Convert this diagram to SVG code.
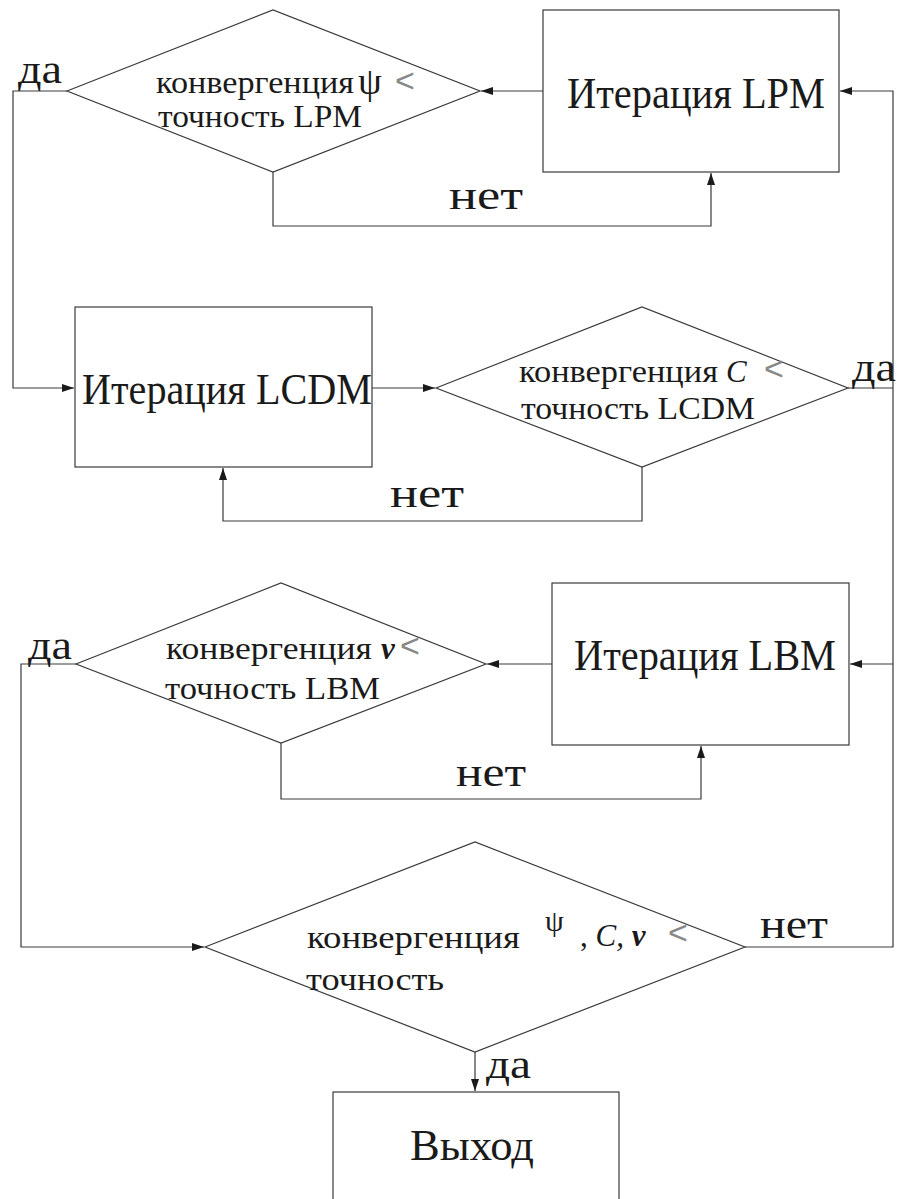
<svg xmlns="http://www.w3.org/2000/svg" width="898" height="1199" viewBox="0 0 898 1199">
<style>
.shape{fill:none;stroke:#3a3a3a;stroke-width:1.2}
.line{fill:none;stroke:#3a3a3a;stroke-width:1.2}
.t{font-family:'Liberation Serif','DejaVu Serif',serif;fill:#1a1a1a}
.big{font-size:44px}
.dt{font-size:31px}
.lbl{font-size:40px}
.lt{fill:#888;font-family:'Liberation Sans',sans-serif;font-size:34px}
</style>
<defs>
<marker id="arr" markerUnits="userSpaceOnUse" markerWidth="13" markerHeight="8" refX="12" refY="4" orient="auto">
<path d="M0,0 L12,4 L0,8 z" fill="#1a1a1a"/>
</marker>
</defs>
<rect width="898" height="1199" fill="#fff"/>
<g id="connectors">
<path class="line" d="M543,91 H481" marker-end="url(#arr)"/>
<path class="line" d="M273,172 V226 H711 V173" marker-end="url(#arr)"/>
<path class="line" d="M67,91 H13 V388 H74" marker-end="url(#arr)"/>
<path class="line" d="M372,388 H435" marker-end="url(#arr)"/>
<path class="line" d="M642,467 V521 H223 V468" marker-end="url(#arr)"/>
<path class="line" d="M848,388 H893"/>
<path class="line" d="M745,947 H893 V91 H840" marker-end="url(#arr)"/>
<path class="line" d="M893,664 H850" marker-end="url(#arr)"/>
<path class="line" d="M552,664 H487" marker-end="url(#arr)"/>
<path class="line" d="M281,743 V799 H701 V746" marker-end="url(#arr)"/>
<path class="line" d="M76,664 H21 V947 H204" marker-end="url(#arr)"/>
<path class="line" d="M475,1052 V1091" marker-end="url(#arr)"/>
</g>
<g id="labels">
<text class="t lbl" x="18" y="83" textLength="44" lengthAdjust="spacingAndGlyphs">да</text>
<text class="t lbl" x="449" y="209" textLength="74" lengthAdjust="spacingAndGlyphs">нет</text>
<text class="t lbl" x="852" y="381" textLength="44" lengthAdjust="spacingAndGlyphs">да</text>
<text class="t lbl" x="390" y="507" textLength="74" lengthAdjust="spacingAndGlyphs">нет</text>
<text class="t lbl" x="28" y="659" textLength="44" lengthAdjust="spacingAndGlyphs">да</text>
<text class="t lbl" x="456" y="786" textLength="70" lengthAdjust="spacingAndGlyphs">нет</text>
<text class="t lbl" x="760" y="938" textLength="68" lengthAdjust="spacingAndGlyphs">нет</text>
<text class="t lbl" x="486" y="1078" textLength="45" lengthAdjust="spacingAndGlyphs">да</text>
</g>
<g id="lpm-check">
<polygon class="shape" points="67,91 273,10 480,91 273,172"/>
<text class="t dt" x="156" y="93" textLength="198" lengthAdjust="spacingAndGlyphs">конвергенция</text>
<text class="t" x="358" y="94" font-size="38">ψ</text>
<text class="lt" x="395" y="92">&lt;</text>
<text class="t dt" x="158" y="127" textLength="204" lengthAdjust="spacingAndGlyphs">точность LPM</text>
</g>
<g id="lpm-iter">
<rect class="shape" x="543" y="10" width="296" height="162"/>
<text class="t big" x="567" y="108" textLength="258" lengthAdjust="spacingAndGlyphs">Итерация LPM</text>
</g>
<g id="lcdm-iter">
<rect class="shape" x="75" y="307" width="297" height="160"/>
<text class="t big" x="82" y="404" textLength="290" lengthAdjust="spacingAndGlyphs">Итерация LCDM</text>
</g>
<g id="lcdm-check">
<polygon class="shape" points="436,388 642,307 848,388 642,467"/>
<text class="t dt" x="519" y="382" textLength="199" lengthAdjust="spacingAndGlyphs">конвергенция</text>
<text class="t dt" x="726" y="382" font-style="italic" fill="#555">C</text>
<text class="lt" x="764" y="380">&lt;</text>
<text class="t dt" x="521" y="419" textLength="234" lengthAdjust="spacingAndGlyphs">точность LCDM</text>
</g>
<g id="lbm-check">
<polygon class="shape" points="76,664 281,583 486,664 281,743"/>
<text class="t dt" x="166" y="659" textLength="206" lengthAdjust="spacingAndGlyphs">конвергенция</text>
<text class="t dt" x="381" y="659" font-style="italic" font-weight="bold">v</text>
<text class="lt" x="400" y="657">&lt;</text>
<text class="t dt" x="165" y="699" textLength="215" lengthAdjust="spacingAndGlyphs">точность LBM</text>
</g>
<g id="lbm-iter">
<rect class="shape" x="552" y="583" width="297" height="162"/>
<text class="t big" x="574" y="670" textLength="262" lengthAdjust="spacingAndGlyphs">Итерация LBM</text>
</g>
<g id="total-check">
<polygon class="shape" points="205,947 475,842 745,947 475,1052"/>
<text class="t dt" x="307" y="948" textLength="213" lengthAdjust="spacingAndGlyphs">конвергенция</text>
<text class="t" x="545" y="931" font-size="30">ψ</text>
<text class="t dt" x="580" y="946"><tspan>,</tspan><tspan font-style="italic"> C,</tspan><tspan font-style="italic" font-weight="bold"> v</tspan></text>
<text class="lt" x="668" y="944">&lt;</text>
<text class="t dt" x="306" y="990" textLength="138" lengthAdjust="spacingAndGlyphs">точность</text>
</g>
<g id="exit">
<rect class="shape" x="333" y="1092" width="286" height="130"/>
<text class="t big" x="410" y="1160" textLength="124" lengthAdjust="spacingAndGlyphs">Выход</text>
</g>
</svg>
